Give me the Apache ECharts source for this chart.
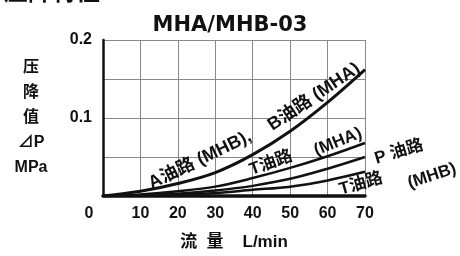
<!DOCTYPE html>
<html>
<head>
<meta charset="utf-8">
<script src="https://cdn.jsdelivr.net/npm/echarts@6/dist/echarts.min.js"></script>
<style>
    html, body { margin: 0; padding: 0; background: #fff; }
    #chart { width: 460px; height: 256px; }
</style>
</head>
<body>
<div id="chart"></div>
<script>
    // 流量 L/min
    let flow = [0, 10, 20, 30, 40, 50, 60, 70];
    // 压降值 MPa
    let abLine = [0, 0.006, 0.016, 0.030, 0.053, 0.083, 0.120, 0.162];
    let tMha = [0, 0.002, 0.006, 0.012, 0.023, 0.036, 0.051, 0.068];
    let pLine = [0, 0.001, 0.003, 0.007, 0.013, 0.022, 0.035, 0.050];
    let tMhb = [0, 0.001, 0.002, 0.004, 0.008, 0.012, 0.020, 0.031];
    let yTicks = ['0.1', '0.2'];

    let cjk = '"Liberation Sans", Arial, "Noto Sans CJK SC", sans-serif';

    function pairs(ys) {
        return flow.map(function (x, i) { return [x, ys[i]]; });
    }

    function curve(name, ys, w) {
        return {
            name: name,
            type: 'line',
            data: pairs(ys),
            smooth: 0.35,
            symbol: 'none',
            lineStyle: { color: '#111', width: w },
            z: 3
        };
    }

    function tag(text, x, y, deg, size) {
        return {
            type: 'text',
            x: x,
            y: y,
            rotation: deg * Math.PI / 180,
            style: {
                text: text,
                fontFamily: cjk,
                fontSize: size || 17,
                fontWeight: 'bold',
                fill: '#111',
                align: 'center',
                verticalAlign: 'middle'
            },
            z: 10
        };
    }

    let myChart = echarts.init(document.getElementById('chart'));
    let option = {
        animation: false,
        backgroundColor: '#fff',
        title: {
            text: 'MHA/MHB-03',
            left: 'center',
            top: 10,
            textStyle: { fontFamily: '"DejaVu Sans", sans-serif', fontSize: 21, fontWeight: 'bold', color: '#111' }
        },
        grid: { left: 103, right: 95, top: 40, bottom: 60 },
        xAxis: {
            type: 'value',
            min: 0,
            max: 70,
            interval: 10,
            name: '流  量    L/min',
            nameLocation: 'middle',
            nameGap: 38,
            nameTextStyle: { fontFamily: cjk, fontSize: 17, fontWeight: 'bold', color: '#111' },
            axisLine: { lineStyle: { color: '#111', width: 3.5 } },
            axisTick: { show: false },
            axisLabel: {
                margin: 10,
                fontFamily: '"Liberation Sans", Arial, sans-serif',
                fontSize: 16,
                fontWeight: 'bold',
                color: '#111',
                formatter: function (v) { return v === 0 ? '{z|0}' : String(v); },
                rich: { z: { fontSize: 16, fontWeight: 'bold', color: '#111', padding: [0, 28, 0, 0] } }
            },
            splitLine: { lineStyle: { color: '#888', width: 1 } }
        },
        yAxis: {
            type: 'value',
            min: 0,
            max: 0.2,
            interval: 0.05,
            name: '压\n降\n值\n⊿P\nMPa',
            nameLocation: 'middle',
            nameRotate: 0,
            nameGap: 72,
            nameTextStyle: {
                fontFamily: cjk, fontSize: 16, fontWeight: 'bold', color: '#111',
                align: 'center', lineHeight: 25, padding: [14, 0, 0, 0]
            },
            axisLine: { show: true, lineStyle: { color: '#111', width: 2.5 } },
            axisTick: { show: false },
            axisLabel: {
                margin: 11,
                fontFamily: '"Liberation Sans", Arial, sans-serif',
                fontSize: 16,
                fontWeight: 'bold',
                color: '#111',
                formatter: function (v) {
                    let s = v.toFixed(1);
                    return (Math.abs(v * 10 - Math.round(v * 10)) < 1e-6 && yTicks.indexOf(s) >= 0) ? s : '';
                }
            },
            splitLine: { lineStyle: { color: '#888', width: 1 } }
        },
        graphic: [
            {
                type: 'text', x: 4, y: -19,
                style: { text: '压降特性', fontFamily: cjk, fontSize: 24, fontWeight: 'bold', fill: '#111' }
            },
            tag('A油路 (MHB),', 200, 160, 26, 18),
            tag('B油路 (MHA)', 314, 97, 34, 18),
            tag('T油路', 271, 163, 20),
            tag('(MHA)', 338, 142, 22),
            tag('P 油路', 399, 152, 17),
            tag('T油路', 361, 184, 16),
            tag('(MHB)', 432, 176, 18)
        ],
        series: [
            curve('A/B', abLine, 3),
            curve('T MHA', tMha, 2.5),
            curve('P', pLine, 2.5),
            curve('T MHB', tMhb, 2.5)
        ]
    };
    myChart.setOption(option);
</script>
</body>
</html>
